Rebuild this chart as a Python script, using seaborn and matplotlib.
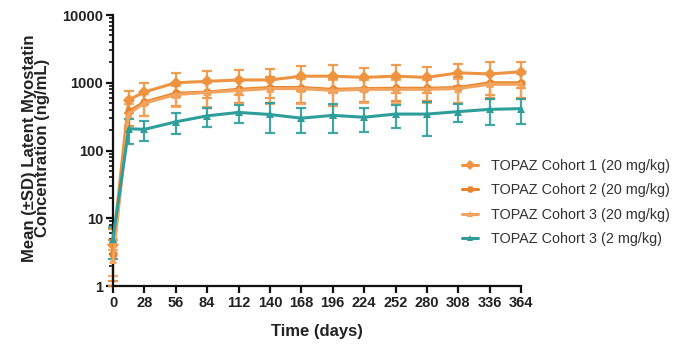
import numpy as np
import pandas as pd
import matplotlib
matplotlib.use("Agg")
import matplotlib.pyplot as plt
import matplotlib.ticker as mticker
import seaborn as sns

days = [0, 14, 28, 56, 84, 112, 140, 168, 196, 224, 252, 280, 308, 336, 364]
series_names = ["TOPAZ Cohort 1 (20 mg/kg)", "TOPAZ Cohort 2 (20 mg/kg)",
                "TOPAZ Cohort 3 (20 mg/kg)", "TOPAZ Cohort 3 (2 mg/kg)"]
cohort1_mean = [4.0, 560, 730, 1000, 1050, 1100, 1100, 1250, 1250, 1200, 1250, 1200, 1400, 1350, 1450]
cohort1_sd = [3.0, 200, 250, 380, 450, 450, 500, 500, 550, 450, 550, 500, 500, 700, 600]
cohort2_mean = [3.0, 380, 520, 700, 730, 800, 850, 850, 800, 820, 830, 830, 850, 1000, 1000]
cohort2_sd = [1.8, 150, 200, 250, 300, 300, 350, 350, 350, 300, 300, 300, 350, 400, 400]
cohort3_mean = [2.4, 350, 500, 670, 720, 770, 820, 820, 770, 800, 800, 800, 820, 950, 950]
cohort3_sd = [1.0, 140, 180, 230, 280, 280, 330, 330, 320, 300, 300, 300, 320, 380, 380]
cohort3_low_mean = [5.0, 210, 205, 265, 325, 365, 340, 300, 330, 310, 345, 345, 375, 405, 415]
cohort3_low_sd = [2.5, 85, 65, 90, 100, 110, 160, 120, 150, 120, 130, 180, 110, 170, 170]

means = [cohort1_mean, cohort2_mean, cohort3_mean, cohort3_low_mean]
sds = [cohort1_sd, cohort2_sd, cohort3_sd, cohort3_low_sd]
colors = ["#EE9440", "#E8832A", "#F2A45E", "#2E9E9B"]
markers = ["D", "o", "^", "^"]

rows = []
for name, m, s in zip(series_names, means, sds):
    for d, mv, sv in zip(days, m, s):
        rows.append({"day": d, "value": mv, "sd": sv, "series": name})
df = pd.DataFrame(rows)

sns.set_style("ticks")
plt.rcParams["font.family"] = ["Liberation Sans", "DejaVu Sans"]

fig = plt.figure(figsize=(6.87, 3.45), dpi=100)
ax = fig.add_axes([0.1645, 0.171, 0.594, 0.7855])

palette = dict(zip(series_names, colors))
mk = dict(zip(series_names, markers))
sns.lineplot(data=df, x="day", y="value", hue="series", style="series",
             palette=palette, markers=mk, dashes=False, markersize=6,
             markeredgewidth=0, linewidth=2.2, ax=ax, legend=True, clip_on=False,
             zorder=3)

for name in series_names:
    sub = df[df.series == name]
    ax.errorbar(sub["day"], sub["value"], yerr=sub["sd"], fmt="none",
                ecolor=palette[name], elinewidth=1.6, capsize=3.5, capthick=1.6,
                clip_on=False, zorder=2, alpha=0.9)

ax.set_yscale("log")
ax.set_ylim(1, 10000)
ax.set_xlim(0, 364)
ax.set_xticks(list(range(0, 365, 28)))
ax.yaxis.set_major_locator(mticker.LogLocator(base=10, numticks=10))
ax.yaxis.set_minor_locator(mticker.LogLocator(base=10, subs=np.arange(2, 10), numticks=20))
ax.yaxis.set_major_formatter(mticker.FuncFormatter(lambda v, p: f"{int(round(v))}"))
ax.yaxis.set_minor_formatter(mticker.NullFormatter())

for sp in ["top", "right"]:
    ax.spines[sp].set_visible(False)
for sp in ["left", "bottom"]:
    ax.spines[sp].set_linewidth(1.6)
    ax.spines[sp].set_color("#111111")
ax.tick_params(axis="both", which="major", length=5, width=1.6, color="#111111",
               labelsize=10.5, pad=2)
ax.tick_params(axis="y", which="minor", length=3, width=1.2, color="#111111")
for lab in ax.get_xticklabels() + ax.get_yticklabels():
    lab.set_fontweight("bold")
    lab.set_color("#222222")

ax.set_xlabel("Time (days)", fontsize=12, fontweight="bold", color="#222222", labelpad=10)
ax.set_ylabel("Mean (\u00b1SD) Latent Myostatin\nConcentration (ng/mL)", fontsize=12,
              fontweight="bold", color="#222222", linespacing=0.85)
ax.yaxis.set_label_coords(-0.155, 0.51)

handles, labels = ax.get_legend_handles_labels()
ax.get_legend().remove()
leg = fig.legend(handles, labels, loc="upper left",
                 bbox_to_anchor=(462 / 687, 1 - 159 / 345),
                 bbox_transform=fig.transFigure, borderpad=0, borderaxespad=0,
                 frameon=False, fontsize=10.4, handlelength=1.1, labelspacing=0.72,
                 handletextpad=0.9, markerscale=0.8)
for t in leg.get_texts():
    t.set_color("#333333")

fig.savefig("out.png", dpi=100)
